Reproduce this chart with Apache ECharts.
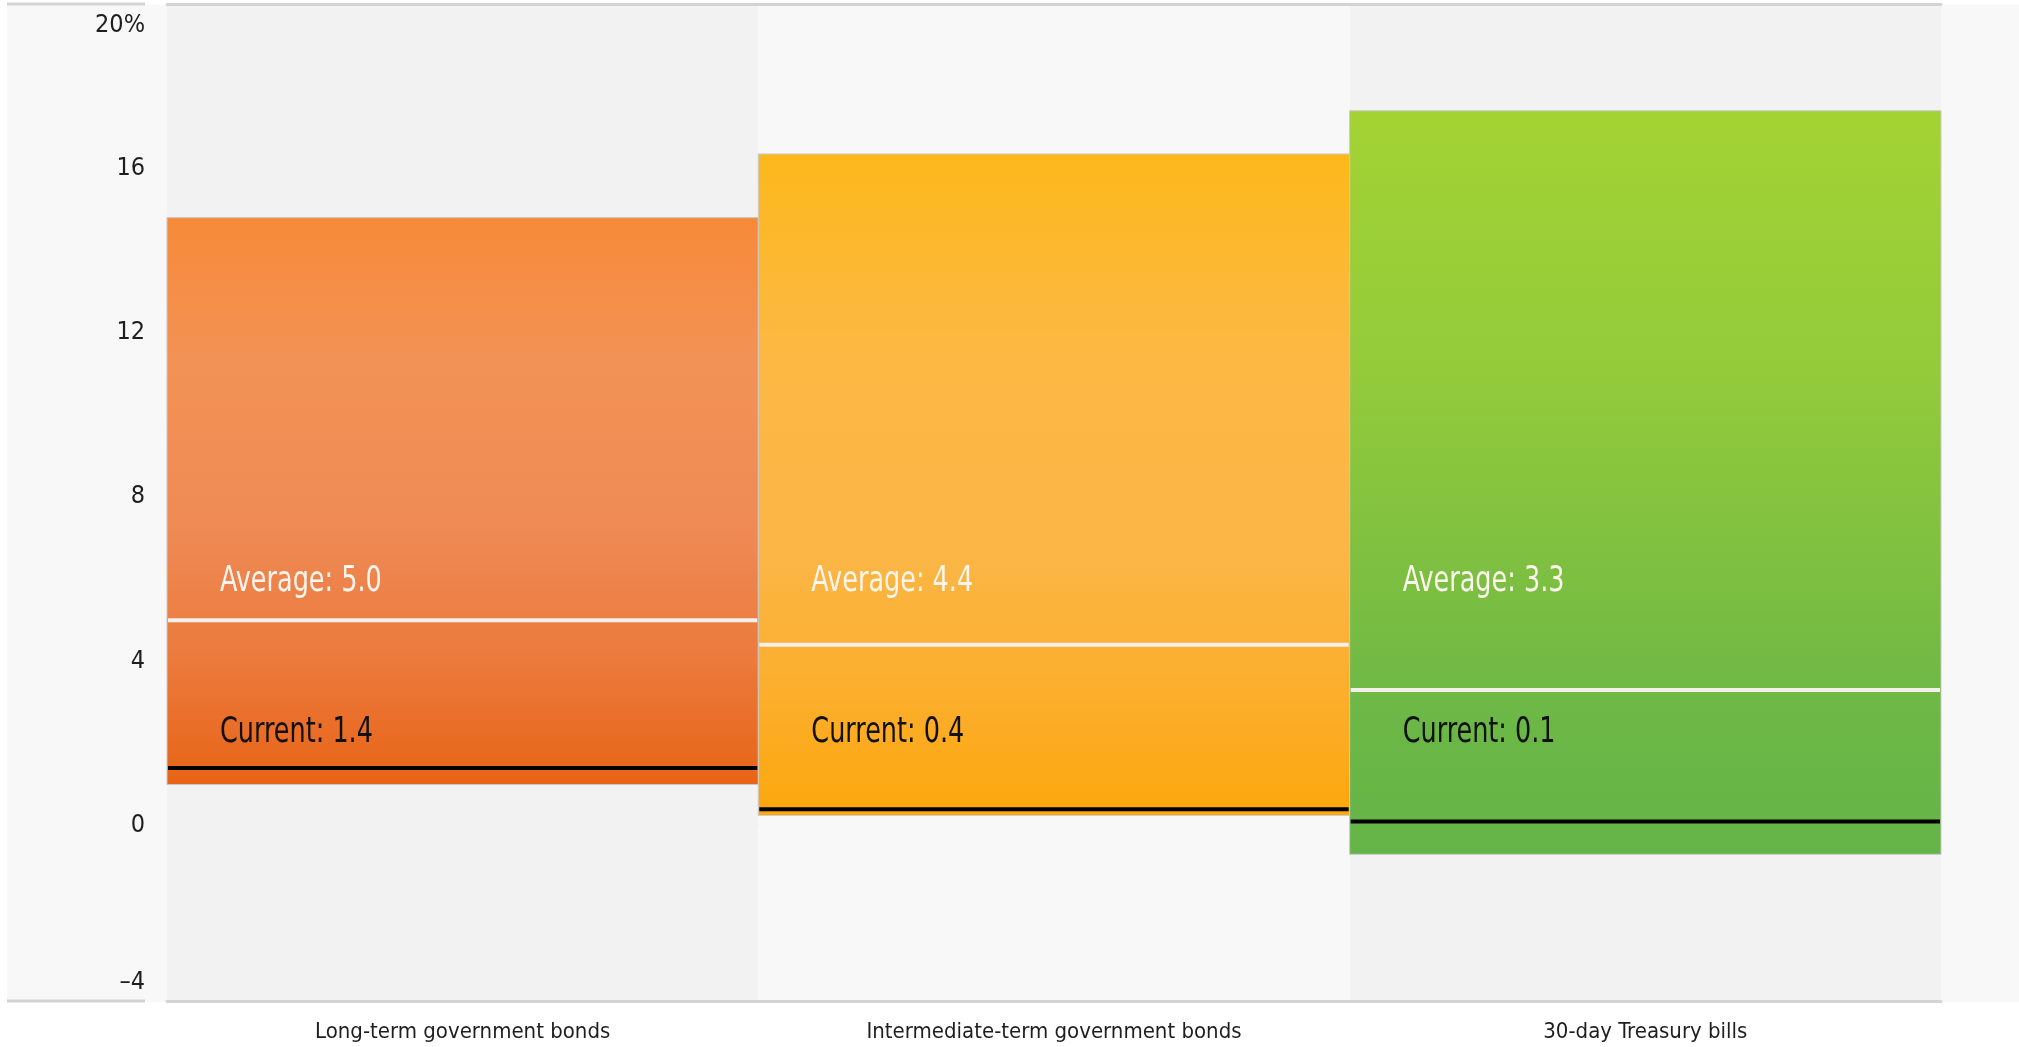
<!DOCTYPE html>
<html>
<head>
<meta charset="utf-8">
<script src="https://cdn.jsdelivr.net/npm/echarts@6/dist/echarts.min.js"></script>
<style>
  html, body { margin: 0; padding: 0; background: #ffffff; }
  #chart { width: 2019px; height: 1047px; }
</style>
</head>
<body>
<div id="chart"></div>
<script>
// Asset classes shown along the x axis
const categories = ['Long-term government bonds', 'Intermediate-term government bonds', '30-day Treasury bills'];
// Lowest and highest value of each range (%)
const rangeLow = [1.0, 0.25, -0.7];
const rangeHigh = [14.8, 16.35, 17.4];
// Long-run average and current value (%)
const averageValues = [5.0, 4.4, 3.3];
const currentValues = [1.4, 0.4, 0.1];
// Value-axis tick labels
const yTicks = [-4, 0, 4, 8, 12, 16, 20];

const FONT = "'DejaVu Sans Condensed', 'Liberation Sans Narrow', sans-serif";
const NARROW = 0.81; // horizontal squeeze for the in-bar captions

// Vertical colour ramps, one per asset class
const barGradients = [
  [[0, '#f68a38'], [0.25, '#f39255'], [0.55, '#ef8a55'], [0.78, '#eb7a3c'], [1, '#e86416']],
  [[0, '#fdb81b'], [0.3, '#fcb843'], [0.6, '#fbb646'], [0.82, '#fcae2c'], [1, '#fca70b']],
  [[0, '#a3d333'], [0.35, '#93cb3a'], [0.6, '#7fc040'], [0.8, '#6db846'], [1, '#64b447']]
];

const seriesData = categories.map((c, i) => [i, rangeLow[i], rangeHigh[i], averageValues[i], currentValues[i]]);
const maxAvg = Math.max(...averageValues);
const maxCur = Math.max(...currentValues);

function caption(text, x, y, color) {
  return {
    type: 'text',
    x: x, y: y, scaleX: NARROW,
    style: {
      text: text, x: 0, y: 0,
      fill: color, fontSize: 35, fontFamily: FONT,
      align: 'left', verticalAlign: 'middle'
    }
  };
}

function renderRange(params, api) {
  const i = api.value(0);
  const lo = api.coord([i, api.value(1)]);
  const hi = api.coord([i, api.value(2)]);
  const avg = api.coord([i, api.value(3)]);
  const cur = api.coord([i, api.value(4)]);
  const w = api.size([1, 0])[0];
  const x0 = lo[0] - w / 2;
  const avgLabelY = api.coord([i, maxAvg])[1] - 38;
  const curLabelY = api.coord([i, maxCur])[1] - 35;
  return {
    type: 'group',
    children: [
      {
        type: 'rect',
        shape: { x: x0, y: hi[1], width: w, height: lo[1] - hi[1] },
        style: {
          fill: new echarts.graphic.LinearGradient(0, 0, 0, 1,
            barGradients[i].map(s => ({ offset: s[0], color: s[1] }))),
          stroke: '#c9c9c9',
          lineWidth: 1
        }
      },
      {
        type: 'line',
        shape: { x1: x0 + 1, y1: avg[1], x2: x0 + w - 1, y2: avg[1] },
        style: { stroke: '#f4f0ea', lineWidth: 4 }
      },
      {
        type: 'line',
        shape: { x1: x0 + 1, y1: cur[1], x2: x0 + w - 1, y2: cur[1] },
        style: { stroke: '#000000', lineWidth: 4 }
      },
      caption('Average: ' + api.value(3).toFixed(1), x0 + 53, avgLabelY, '#fbf5ee'),
      caption('Current: ' + api.value(4).toFixed(1), x0 + 53, curLabelY, '#111111')
    ]
  };
}

const chart = echarts.init(document.getElementById('chart'), null, { renderer: 'canvas' });

chart.setOption({
  animation: false,
  backgroundColor: '#ffffff',
  graphic: [
    // side panels and their border strips
    { type: 'rect', z: -10, shape: { x: 7, y: 5, width: 160, height: 997 }, style: { fill: '#f8f8f8' } },
    { type: 'rect', z: -10, shape: { x: 1941, y: 5, width: 78, height: 997 }, style: { fill: '#f8f8f8' } },
    { type: 'line', z: -9, shape: { x1: 7, y1: 4, x2: 145, y2: 4 }, style: { stroke: '#d3d3d3', lineWidth: 3 } },
    { type: 'line', z: -9, shape: { x1: 7, y1: 1001, x2: 145, y2: 1001 }, style: { stroke: '#d3d3d3', lineWidth: 3 } }
  ],
  grid: { left: 167, right: 78, top: 4, bottom: 46, containLabel: false },
  xAxis: [
    {
      type: 'category',
      data: categories,
      position: 'bottom',
      axisLine: { show: true, onZero: false, lineStyle: { color: '#d3d3d3', width: 3 } },
      axisTick: { show: false },
      axisLabel: { interval: 0, color: '#1e1e1e', fontSize: 22, fontFamily: FONT, margin: 20 },
      splitArea: { show: true, interval: 0, areaStyle: { color: ['#f1f2f1', '#f8f8f8'] } },
      splitLine: { show: false }
    },
    {
      type: 'category',
      data: categories,
      position: 'top',
      axisLine: { show: true, onZero: false, lineStyle: { color: '#d3d3d3', width: 3 } },
      axisTick: { show: false },
      axisLabel: { show: false },
      splitLine: { show: false }
    }
  ],
  yAxis: {
    type: 'value',
    min: -4.27,
    max: 20,
    axisLine: { show: false },
    axisTick: { show: false, customValues: yTicks },
    axisLabel: {
      customValues: yTicks,
      color: '#1e1e1e',
      fontSize: 25,
      fontFamily: FONT,
      margin: 22,
      formatter: v => v === 20 ? '{top|20%}' : (v === -4 ? '{bot|\u20134}' : String(v)),
      rich: {
        top: { fontSize: 25, fontFamily: FONT, color: '#1e1e1e', padding: [42, 0, 0, 0] },
        bot: { fontSize: 25, fontFamily: FONT, color: '#1e1e1e', padding: [0, 0, 14, 0] }
      }
    },
    splitLine: {
      show: true,
      lineStyle: {
        width: 2,
        color: ['rgba(0,0,0,0)', '#dddddd', '#dddddd', '#dddddd', '#dddddd', '#dddddd', 'rgba(0,0,0,0)']
      }
    }
  },
  series: [
    {
      type: 'custom',
      name: 'Range',
      xAxisIndex: 0,
      renderItem: renderRange,
      encode: { x: 0, y: [1, 2] },
      data: seriesData,
      clip: false
    }
  ]
});
</script>
</body>
</html>
